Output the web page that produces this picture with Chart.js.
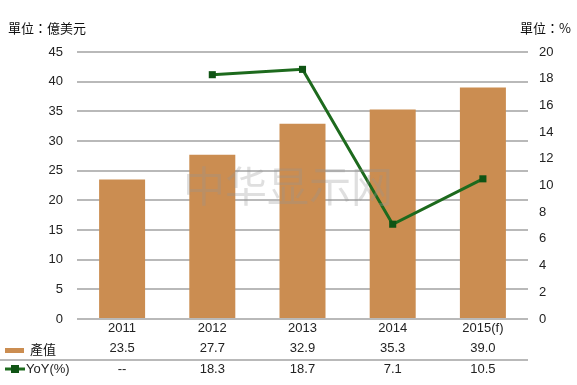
<!DOCTYPE html>
<html>
<head>
<meta charset="utf-8">
<script src="https://cdn.jsdelivr.net/npm/chart.js@4/dist/chart.umd.min.js"></script>
<style>
  html, body { margin: 0; padding: 0; background: #fff; }
  #wrap { width: 577px; height: 385px; position: relative; }
</style>
</head>
<body>
<div id="wrap"><canvas id="chart" width="577" height="385"></canvas></div>
<script>
// data
const years = ['2011', '2012', '2013', '2014', '2015(f)'];
const output = [23.5, 27.7, 32.9, 35.3, 39.0];
const yoy = [null, 18.3, 18.7, 7.1, 10.5];
const outputText = ['23.5', '27.7', '32.9', '35.3', '39.0'];
const yoyText = ['--', '18.3', '18.7', '7.1', '10.5'];

const barColor = '#CB8D51';
const lineColor = '#1D6A1D';
const cjk = '"Noto Sans CJK TC", "Noto Sans CJK SC", sans-serif';
const latin = '"Liberation Sans", Arial, sans-serif';

// titles, watermark and the data table under the plot
const extras = {
    id: 'extras',
    afterDraw(chart) {
        const ctx = chart.ctx;
        const x = chart.scales.x;
        ctx.save();

        // watermark
        ctx.font = '42px ' + cjk;
        ctx.fillStyle = 'rgba(150,150,150,0.3)';
        ctx.textAlign = 'center';
        ctx.textBaseline = 'middle';
        ctx.fillText('中华显示网', 288, 186);

        // units
        ctx.fillStyle = '#111';
        ctx.font = '13px ' + cjk;
        ctx.textAlign = 'left';
        ctx.fillText('單位：億美元', 8, 28);
        ctx.textAlign = 'right';
        ctx.fillText('單位：%', 571, 28);

        // table
        ctx.font = '13px ' + latin;
        ctx.fillStyle = '#222';
        ctx.textAlign = 'center';
        years.forEach((y, i) => {
            const px = x.getPixelForValue(i);
            ctx.fillText(y, px, 328);
            ctx.fillText(outputText[i], px, 348);
            ctx.fillText(yoyText[i], px, 369);
        });

        // separator
        ctx.strokeStyle = '#b9b9b9';
        ctx.lineWidth = 2;
        ctx.beginPath();
        ctx.moveTo(0, 360);
        ctx.lineTo(chart.chartArea.right, 360);
        ctx.stroke();

        // legend keys
        ctx.fillStyle = barColor;
        ctx.fillRect(5, 348, 19, 5);
        ctx.fillStyle = '#111';
        ctx.textAlign = 'left';
        ctx.font = '13px ' + cjk;
        ctx.fillText('產值', 30, 349);

        ctx.strokeStyle = lineColor;
        ctx.lineWidth = 3;
        ctx.beginPath();
        ctx.moveTo(5, 369);
        ctx.lineTo(25, 369);
        ctx.stroke();
        ctx.fillStyle = '#0F5414';
        ctx.fillRect(11, 365, 8, 8);
        ctx.fillStyle = '#222';
        ctx.font = '13px ' + latin;
        ctx.fillText('YoY(%)', 26, 369);

        ctx.restore();
    }
};

const chart = new Chart(document.getElementById('chart'), {
    data: {
        labels: years,
        datasets: [{
            type: 'line',
            label: 'YoY(%)',
            data: yoy,
            yAxisID: 'y1',
            borderColor: lineColor,
            borderWidth: 3,
            pointStyle: 'rect',
            pointRadius: 5,
            pointBackgroundColor: '#0F5414',
            pointBorderColor: '#0F5414',
            pointBorderWidth: 0,
            order: 0
        }, {
            type: 'bar',
            label: '產值',
            data: output,
            yAxisID: 'y',
            backgroundColor: barColor,
            barPercentage: 0.51,
            categoryPercentage: 1,
            order: 1
        }]
    },
    options: {
        responsive: false,
        animation: false,
        layout: { padding: { top: 52, bottom: 66, left: 0, right: 0 } },
        plugins: {
            legend: { display: false },
            tooltip: { enabled: false }
        },
        scales: {
            x: {
                display: false,
                offset: true
            },
            y: {
                position: 'left',
                min: 0,
                max: 45,
                afterFit: s => { s.width = 77; },
                ticks: {
                    stepSize: 5,
                    padding: 14,
                    color: '#222',
                    font: { family: latin, size: 13 }
                },
                grid: { color: '#b9b9b9', lineWidth: 2, drawTicks: false },
                border: { display: false }
            },
            y1: {
                position: 'right',
                min: 0,
                max: 20,
                afterFit: s => { s.width = 49; },
                ticks: {
                    stepSize: 2,
                    padding: 11,
                    color: '#222',
                    font: { family: latin, size: 13 }
                },
                grid: { display: false, drawTicks: false },
                border: { display: false }
            }
        }
    },
    plugins: [extras]
});
</script>
</body>
</html>
